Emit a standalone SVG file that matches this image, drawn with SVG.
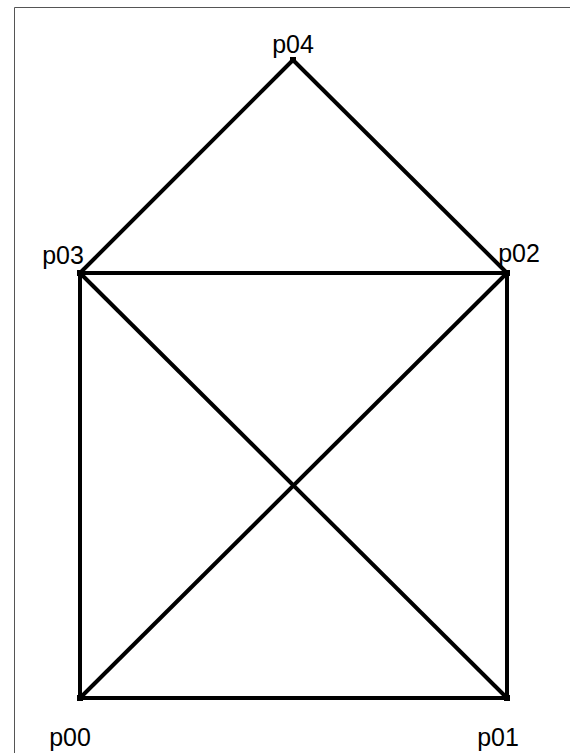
<svg xmlns="http://www.w3.org/2000/svg" width="570" height="753" viewBox="0 0 570 753">
<style>
.edge{stroke:#000;stroke-width:4;fill:none}
.pt{fill:#000}
.lbl{font-family:"Liberation Sans",Arial,sans-serif;font-size:25px;fill:#000;text-anchor:middle}
</style>
<rect width="570" height="753" fill="#fff"/>
<path d="M14.5,753 V7.5 H570" stroke="#555" stroke-width="1" fill="none"/>
<g id="connectors">
<line class="edge" x1="80" y1="698" x2="507" y2="698"/>
<line class="edge" x1="507" y1="698" x2="507" y2="273"/>
<line class="edge" x1="507" y1="273" x2="80" y2="273"/>
<line class="edge" x1="80" y1="273" x2="80" y2="698"/>
<line class="edge" x1="80" y1="698" x2="507" y2="273"/>
<line class="edge" x1="507" y1="698" x2="80" y2="273"/>
<line class="edge" x1="80" y1="273" x2="293" y2="60"/>
<line class="edge" x1="293" y1="60" x2="507" y2="273"/>
</g>
<g id="p00"><rect class="pt" x="77" y="695" width="6" height="6"/><text class="lbl" x="70" y="746">p00</text></g>
<g id="p01"><rect class="pt" x="504" y="695" width="6" height="6"/><text class="lbl" x="498" y="746">p01</text></g>
<g id="p02"><rect class="pt" x="504" y="270" width="6" height="6"/><text class="lbl" x="519" y="262">p02</text></g>
<g id="p03"><rect class="pt" x="77" y="270" width="6" height="6"/><text class="lbl" x="63" y="264">p03</text></g>
<g id="p04"><rect class="pt" x="290" y="57" width="6" height="6"/><text class="lbl" x="293" y="53">p04</text></g>
</svg>
